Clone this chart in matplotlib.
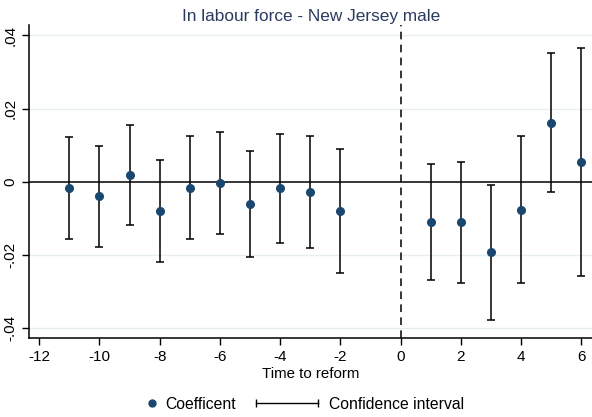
import matplotlib
matplotlib.use("Agg")
import matplotlib.pyplot as plt
from matplotlib.lines import Line2D
from matplotlib.legend_handler import HandlerLine2D

plt.rcParams['font.family'] = ['Liberation Sans', 'DejaVu Sans']

# Event-study estimates relative to the reform
periods = [-11, -10, -9, -8, -7, -6, -5, -4, -3, -2, 1, 2, 3, 4, 5, 6]
coef = [-0.0018, -0.0039, 0.0018, -0.0080, -0.0016, -0.0003, -0.0061, -0.0018,
        -0.0027, -0.0079, -0.0110, -0.0110, -0.0193, -0.0076, 0.0160, 0.0054]
ci_low = [-0.0156, -0.0177, -0.0119, -0.0218, -0.0156, -0.0143, -0.0206, -0.0166,
          -0.0181, -0.0248, -0.0268, -0.0275, -0.0377, -0.0277, -0.0029, -0.0258]
ci_high = [0.0122, 0.0099, 0.0156, 0.0059, 0.0126, 0.0137, 0.0085, 0.0131,
           0.0126, 0.0089, 0.0049, 0.0053, -0.0008, 0.0126, 0.0351, 0.0366]

xticks = [-12, -10, -8, -6, -4, -2, 0, 2, 4, 6]
yticks = [-0.04, -0.02, 0, 0.02, 0.04]
ylabels = ['-.04', '-.02', '0', '.02', '.04']

navy = '#1a476f'

fig = plt.figure(figsize=(5.92, 4.17), dpi=100)
ax = fig.add_axes([0.0495, 0.189, 0.9505, 0.751])

# grid lines at the y ticks
for yv in yticks:
    if yv != 0:
        ax.axhline(yv, color='#e6eef0', lw=1.0, zorder=0)
ax.axhline(0, color='black', lw=1.1, zorder=1)
ax.axvline(0, color='black', lw=1.1, ls=(0, (5, 3.5)), zorder=1)

yerr = [[c - lo for c, lo in zip(coef, ci_low)],
        [hi - c for c, hi in zip(coef, ci_high)]]
ax.errorbar(periods, coef, yerr=yerr, fmt='none', ecolor='black',
            elinewidth=1.1, capsize=3, capthick=1.1, zorder=2)
ax.plot(periods, coef, 'o', color=navy, markersize=5.5, zorder=3)

ax.set_xlim(-12.33, 6.36)
ax.set_ylim(-0.0427, 0.0428)
ax.set_xticks(xticks)
ax.set_xticklabels([str(t) for t in xticks])
ax.set_yticks(yticks)
ax.set_yticklabels(ylabels, rotation=90, va='center')
ax.tick_params(labelsize=11, length=5, width=1, direction='out')
for s in ['top', 'right']:
    ax.spines[s].set_visible(False)
for s in ['left', 'bottom']:
    ax.spines[s].set_linewidth(1.1)

ax.set_xlabel('Time to reform', fontsize=10.8, labelpad=2)
ax.set_title('In labour force - New Jersey male', fontsize=12.4, color='#2a3a5e', pad=3)

# legend: one entry per legend box so each handle gets its own length
pt_handle = Line2D([], [], ls='none', marker='o', color=navy, markersize=5)
ci_handle = Line2D([], [], color='black', lw=1, marker='|', markersize=6,
                   markeredgewidth=1)
fig.legend([pt_handle], ['Coefficent'], loc='center left',
           bbox_to_anchor=(0.2298, 0.031), frameon=False, fontsize=11.3,
           borderpad=0, handlelength=1.0, handletextpad=0.39,
           handler_map={pt_handle: HandlerLine2D(numpoints=1)})
fig.legend([ci_handle], ['Confidence interval'], loc='center left',
           bbox_to_anchor=(0.4189, 0.031), frameon=False, fontsize=11.3,
           borderpad=0, handlelength=3.95, handletextpad=0.7,
           handler_map={ci_handle: HandlerLine2D(numpoints=2, marker_pad=0)})

fig.savefig('out.png', dpi=100)
